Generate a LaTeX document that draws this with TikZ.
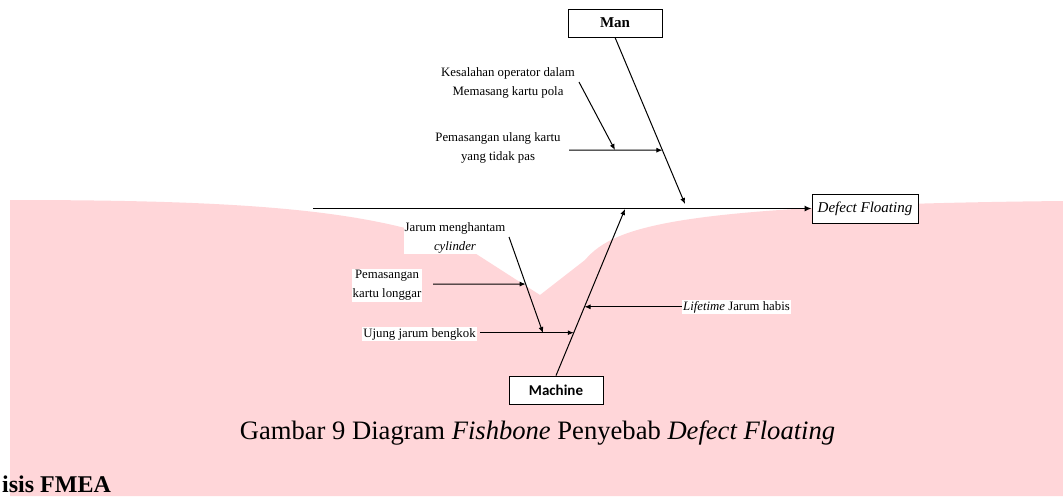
\documentclass[tikz,border=0pt]{standalone}
\usepackage{fontspec}
\setmainfont{Liberation Serif}
\newfontfamily\calibrifont{Carlito}
\usetikzlibrary{arrows.meta,calc}
\definecolor{wmpink}{RGB}{255,214,217}
\begin{document}
\begin{tikzpicture}[x=1pt,y=-1pt,
  bone/.style={line width=1pt,-{Latex[length=6pt,width=5pt]}},
  spine/.style={line width=1.4pt,-{Latex[length=7pt,width=6pt]}},
  catbox/.style={draw,line width=0.8pt,fill=white,minimum height=28pt,inner sep=2pt},
  lbl/.style={fill=white,align=center,inner sep=1pt,font=\fontsize{12.8}{19}\selectfont},
]
\useasboundingbox (0,0) rectangle (1063,496);
\fill[white] (0,0) rectangle (1063,496);
% watermark
\fill[wmpink] (10,496) -- (10,200) .. controls (250,200) and (380,210) .. (470,250) -- (540,295) -- (585,260) .. controls (615,225) and (680,205) .. (1063,201) -- (1063,496) -- cycle;

% category boxes
\node[catbox,minimum width=94pt,font=\fontsize{15}{18}\selectfont\bfseries] (man) at (615,23) {Man};
\node[catbox,minimum width=94pt,font=\calibrifont\fontsize{15}{18}\selectfont\bfseries] (machine) at (556,390) {Machine};
\node[catbox,minimum width=106pt,minimum height=29pt,font=\fontsize{15}{18}\selectfont\itshape] (defect) at (865,208.5) {Defect Floating};

% main spine
\coordinate (spineStart) at (313,208.5);
\draw[spine] (spineStart) -- (defect.west);

% category bones
\coordinate (manTip) at (685,204);
\draw[bone] (man.south) -- (manTip);
\coordinate (machTip) at (625,209);
\draw[bone] (machine.north) -- (machTip);

% Man causes
\node[lbl] (kes) at (508,82.5) {Kesalahan operator dalam\\Memasang kartu pola};
\node[lbl] (ulang) at (498,148) {Pemasangan ulang kartu\\yang tidak pas};
\coordinate (ulangStart) at (569,150);
\coordinate (ulangTip) at ($(man.south)!0.677!(manTip)$);
\draw[bone] (ulangStart) -- (ulangTip);
\coordinate (kesStart) at (579,82);
\coordinate (kesTip) at (615,150);
\draw[bone] (kesStart) -- (kesTip);

% Machine causes
\node[lbl] (jarum) at (455,238) {Jarum menghantam\\\textit{cylinder}};
\coordinate (jarumStart) at (509,237);
\coordinate (jarumTip) at (543,333);
\draw[bone] (jarumStart) -- (jarumTip);
\node[lbl] (longgar) at (387,285.5) {Pemasangan\\kartu longgar};
\coordinate (longgarStart) at (433,284);
\coordinate (longgarTip) at ($(jarumStart)!0.49!(jarumTip)$);
\draw[bone] (longgarStart) -- (longgarTip);
\node[lbl] (ujung) at (419.5,334) {Ujung jarum bengkok};
\coordinate (ujungTip) at ($(machine.north)!0.2575!(machTip)$);
\draw[bone] ($(ujung.east |- ujungTip)+(3,0)$) -- (ujungTip);
\node[lbl] (life) at (736.5,307) {\textit{Lifetime} Jarum habis};
\coordinate (lifeTip) at ($(machine.north)!0.413!(machTip)$);
\draw[bone] (life.west |- lifeTip) -- (lifeTip);

% caption and heading
\node[font=\fontsize{26.6}{30}\selectfont,anchor=base] (cap) at (537.5,439) {Gambar 9 Diagram \textit{Fishbone} Penyebab \textit{Defect Floating}};
\node[font=\fontsize{24}{30}\selectfont\bfseries,anchor=base west,inner sep=0pt] (fmea) at (2,492) {isis FMEA};
\end{tikzpicture}
\end{document}
